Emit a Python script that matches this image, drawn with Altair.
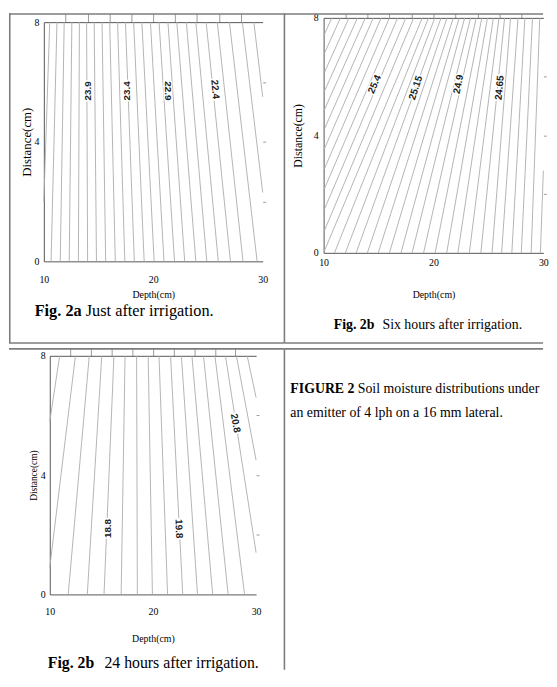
import altair as alt
import pandas as pd

SERIF = "Liberation Serif"
SANS = "Liberation Sans"

# ---------------- Fig. 2a : just after irrigation (contour step 0.1) ----------------
a_x0 = [10.00, 10.66, 11.50, 12.32, 13.16, 14.00, 14.81, 15.65, 16.53, 17.40, 18.27, 19.17,
        20.08, 20.98, 21.94, 22.87, 23.89, 24.89, 25.94, 27.05, 28.20, 29.49, 30.00, 30.00]
a_y0 = [2.0, 0, 0, 0, 0, 0, 0, 0, 0, 0, 0, 0, 0, 0, 0, 0, 0, 0, 0, 0, 0, 0, 2.3, 5.5]
a_x1 = [10.54, 11.20, 11.86, 12.56, 13.25, 13.91, 14.60, 15.32, 16.02, 16.74, 17.46, 18.21,
        18.96, 19.74, 20.53, 21.34, 22.15, 23.02, 23.89, 24.83, 25.85, 26.96, 28.14, 29.19]
a_y1 = [8, 8, 8, 8, 8, 8, 8, 8, 8, 8, 8, 8, 8, 8, 8, 8, 8, 8, 8, 8, 8, 8, 8, 8]
a_lab = ["23.9", "23.4", "22.9", "22.4"]
a_lab_x = [14.06, 17.61, 21.34, 25.64]
a_lab_y = [5.70, 5.70, 5.70, 5.75]
a_lab_ang = [270, 270, 90, 85]

# ---------------- Fig. 2b : six hours after irrigation (contour step 0.05) ----------------
b_x0 = [10, 10, 10, 10, 10, 10, 10, 10, 10, 10, 10,
        10.00, 10.99, 11.98, 12.96, 13.98, 14.97, 15.99, 17.04, 18.05, 19.10, 20.15,
        21.20, 22.22, 23.26, 24.31, 25.33, 26.20, 27.13, 27.99, 28.89, 29.73]
b_y0 = [7.38, 6.73, 6.08, 5.44, 4.81, 4.15, 3.48, 2.80, 2.12, 1.42, 0.69,
        0, 0, 0, 0, 0, 0, 0, 0, 0, 0, 0, 0, 0, 0, 0, 0, 0, 0, 0, 0, 0]
b_x1 = [10.75, 11.53, 12.31, 13.08, 13.80, 14.52, 15.24, 15.99, 16.74, 17.49, 18.20,
        18.98, 19.55, 20.12, 20.69, 21.23, 21.80, 22.34, 22.84, 23.38, 23.89, 24.40,
        24.91, 25.45, 25.96, 26.47, 27.01, 27.69, 28.32, 29.01, 29.67, 30.00]
b_y1 = [8, 8, 8, 8, 8, 8, 8, 8, 8, 8, 8, 8, 8, 8, 8, 8, 8, 8, 8, 8, 8, 8,
        8, 8, 8, 8, 8, 8, 8, 8, 8, 2.8]
b_lab = ["25.4", "25.15", "24.9", "24.65"]
b_lab_x = [14.64, 18.38, 22.28, 26.02]
b_lab_y = [5.74, 5.62, 5.74, 5.62]
b_lab_ang = [294, 288, 281, 275]

# ---------------- Fig. 2b : 24 hours after irrigation (contour step 0.2) ----------------
c_x0 = [10, 10, 11.79, 13.64, 15.26, 16.92, 18.49, 19.95, 21.42, 22.89, 24.32, 25.79,
        27.29, 28.88, 30, 30, 30]
c_y0 = [5.8, 0.9, 0, 0, 0, 0, 0, 0, 0, 0, 0, 0, 0, 0, 1.4, 4.5, 6.6]
c_x1 = [10.96, 12.49, 13.83, 15.04, 16.22, 17.30, 18.42, 19.54, 20.59, 21.71, 22.76,
        23.78, 24.90, 26.01, 27.03, 28.09, 29.14]
c_y1 = [8, 8, 8, 8, 8, 8, 8, 8, 8, 8, 8, 8, 8, 8, 8, 8, 8]
c_lab = ["18.8", "19.8", "20.8"]
c_lab_x = [15.65, 22.50, 27.99]
c_lab_y = [2.21, 2.20, 5.74]
c_lab_ang = [270, 88, 80]

x_ticks = [10, 20, 30]
y_ticks = [0, 4, 8]
top_ticks = [12, 14, 16, 18, 20, 22, 24, 26, 28]
right_ticks = [2, 4, 6]


def seg_df(xa, ya, xb, yb):
    rows = []
    for i, (x0, y0, x1, y1) in enumerate(zip(xa, ya, xb, yb)):
        rows.append({"id": i, "o": 0, "x": x0, "y": y0})
        rows.append({"id": i, "o": 1, "x": x1, "y": y1})
    return pd.DataFrame(rows)


def lab_df(t, x, y, a):
    return pd.DataFrame({"t": t, "x": x, "y": y, "a": a})


ONE = pd.DataFrame({"k": [0]})
BORDER = "#7d7d7d"


def hrule(x0, x1, y):
    return alt.Chart(ONE).mark_rule(color=BORDER, strokeWidth=1.6).encode(
        x=alt.value(x0), x2=alt.value(x1), y=alt.value(y))


def vrule(x, y0, y1):
    return alt.Chart(ONE).mark_rule(color=BORDER, strokeWidth=1.6).encode(
        x=alt.value(x), y=alt.value(y0), y2=alt.value(y1))


def txt(s, x, y, size, bold=False):
    return alt.Chart(ONE).mark_text(
        text=s, font=SERIF, fontSize=size, fontWeight="bold" if bold else "normal",
        align="left", baseline="middle", color="black").encode(x=alt.value(x), y=alt.value(y))


def panel(lines, labels, g, extras):
    xs = alt.Scale(domain=[10, 30], range=g["xr"], nice=False, zero=False)
    ys = alt.Scale(domain=[0, 8], range=g["yr"], nice=False, zero=False)
    base = dict(grid=False, labelFont=SERIF, titleFont=SERIF, labelColor="black",
                titleColor="black", domainColor="#555555", domainWidth=1,
                titleFontWeight="normal", labelFontWeight="normal")
    xb = alt.Axis(orient="bottom", values=x_ticks, offset=g["bo"], ticks=False,
                  labelPadding=g["blp"], labelBaseline="middle", labelFlush=False,
                  labelFontSize=10, title="Depth(cm)", titleFontSize=10,
                  titleY=g["bty"], titleBaseline="middle", **base)
    yl = alt.Axis(orient="left", values=y_ticks, offset=g["lo"], ticks=False,
                  labelPadding=g["llp"], labelFlush=False, labelFontSize=10,
                  title="Distance(cm)", titleFontSize=g["ltfs"], titleX=g["ltx"],
                  titleBaseline="middle", **base)
    xt = alt.Axis(orient="top", values=top_ticks, offset=g["to"], labels=False,
                  ticks=True, tickSize=g["tts"], tickColor="#9a9a9a", title="", **base)
    yr = alt.Axis(orient="right", values=right_ticks, offset=g["ro"], labels=False,
                  domain=False, ticks=True, tickSize=3, tickColor="#9a9a9a", title="",
                  grid=False)
    L = alt.Chart(lines).mark_line(color="#acacac", strokeWidth=0.9).encode(
        x=alt.X("x:Q", scale=xs, axis=xb),
        y=alt.Y("y:Q", scale=ys, axis=yl),
        detail="id:N", order="o:Q")
    H = alt.Chart(labels).mark_text(font=SANS, fontSize=10, fontWeight="bold",
                                    fill="white", stroke="white", strokeWidth=3).encode(
        x=alt.X("x:Q", scale=xs, axis=xt),
        y=alt.Y("y:Q", scale=ys, axis=yr),
        text="t:N", angle=alt.Angle("a:Q", scale=None))
    T = alt.Chart(labels).mark_text(font=SANS, fontSize=10, fontWeight="bold",
                                    color="#222222").encode(
        x=alt.X("x:Q", scale=xs, axis=None),
        y=alt.Y("y:Q", scale=ys, axis=None),
        text="t:N", angle=alt.Angle("a:Q", scale=None))
    return alt.layer(L, H, T, *extras).resolve_axis(
        x="independent", y="independent").properties(width=g["cw"], height=g["ch"])


g1 = dict(cw=279, ch=337, xr=[35.3, 257], yr=[251.3, 9], bo=-85.7, blp=18, bty=33.7,
          lo=-35.3, llp=5, ltx=-17.3, ltfs=13, to=-9, tts=9, ro=-22)
g2 = dict(cw=262, ch=337, xr=[39.7, 262.3], yr=[242.7, 4.7], bo=-94.3, blp=10.3, bty=42.3,
          lo=-39.7, llp=5.5, ltx=-26, ltfs=12, to=-4.7, tts=4.5, ro=0.3)
g3 = dict(cw=279, ch=328, xr=[41.3, 250.3], yr=[251.7, 10], bo=-76.3, blp=17, bty=45,
          lo=-41.3, llp=4.5, ltx=-16, ltfs=9.5, to=-10, tts=8, ro=-28.7)

c1 = panel(seg_df(a_x0, a_y0, a_x1, a_y1), lab_df(a_lab, a_lab_x, a_lab_y, a_lab_ang), g1, [
    hrule(0, 279, 0.8), vrule(0.8, 0, 334), vrule(279, 0, 334), hrule(0, 279, 334),
    txt("Fig. 2a", 26, 302, 16.5, bold=True), txt("Just after irrigation.", 77.8, 302, 16.5),
])
c2 = panel(seg_df(b_x0, b_y0, b_x1, b_y1), lab_df(b_lab, b_lab_x, b_lab_y, b_lab_ang), g2, [
    hrule(0, 262, 0.8), hrule(0, 262, 334),
    txt("Fig. 2b", 50, 316, 14, bold=True), txt("Six hours after irrigation.", 99.3, 316, 14),
])
c3 = panel(seg_df(c_x0, c_y0, c_x1, c_y1), lab_df(c_lab, c_lab_x, c_lab_y, c_lab_ang), g3, [
    hrule(0, 279, 3), vrule(279, 3, 328),
    txt("Fig. 2b", 39.3, 321, 16, bold=True), txt("24 hours after irrigation.", 96.7, 321, 16),
])
c4 = alt.layer(
    hrule(0, 262, 3),
    txt("FIGURE 2", 6, 44, 14, bold=True),
    txt("Soil moisture distributions under", 74.3, 44, 14),
    txt("an emitter of 4 lph on a 16 mm lateral.", 6, 68, 14),
).properties(width=262, height=328)

chart = alt.concat(c1, c2, c3, c4, columns=2, spacing=0, bounds="flush",
                   align="each").properties(padding=0).configure_view(strokeWidth=0)

chart.save("out.html", embed_options={"renderer": "svg", "actions": False})
